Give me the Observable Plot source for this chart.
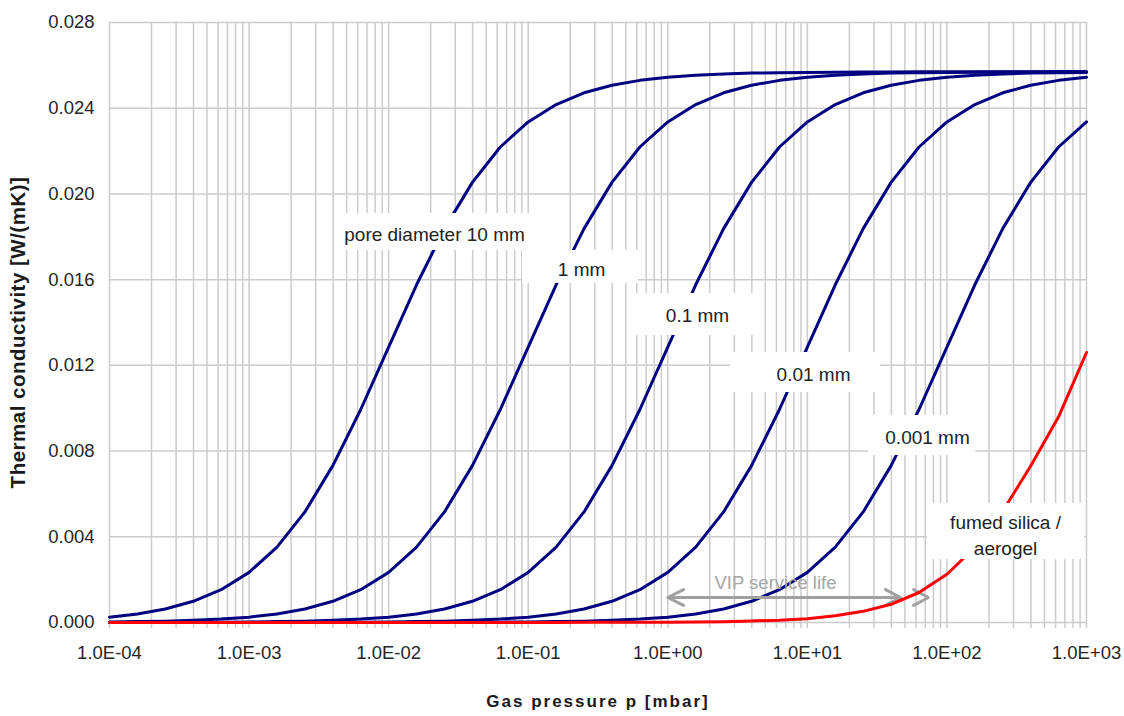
<!DOCTYPE html>
<html>
<head>
<meta charset="utf-8">
<script src="https://cdn.jsdelivr.net/npm/d3@7"></script>
<script src="https://cdn.jsdelivr.net/npm/@observablehq/plot@0.6"></script>
<style>
  html, body { margin: 0; padding: 0; background: #fff; }
  #chart { width: 1124px; height: 716px; }
</style>
</head>
<body>
<div id="chart"></div>
<script>
// Gas pressure sample points [mbar]
const pressure = [1e-4,1.585e-4,2.512e-4,3.981e-4,6.31e-4,
  1e-3,1.585e-3,2.512e-3,3.981e-3,6.31e-3,
  1e-2,1.585e-2,2.512e-2,3.981e-2,6.31e-2,
  1e-1,1.585e-1,2.512e-1,3.981e-1,6.31e-1,
  1,1.585,2.512,3.981,6.31,
  10,15.85,25.12,39.81,63.1,
  100,158.5,251.2,398.1,631,
  1000];

// Thermal conductivity [W/(mK)] per pore diameter
const k10mm = [0.00025,0.0004,0.00063,0.00099,0.00153,0.00234,0.00352,0.00516,0.00732,0.00994,
  0.01285,0.01576,0.01838,0.02054,0.02219,0.02336,0.02417,0.02472,0.02507,0.0253,
  0.02545,0.02554,0.0256,0.02564,0.02566,0.02567,0.02568,0.02569,0.02569,0.0257,
  0.0257,0.0257,0.0257,0.0257,0.0257,0.0257];
const k1mm = [0.000026,0.000041,0.000064,0.0001,0.00016,0.00025,0.0004,0.00063,0.00099,0.00153,
  0.00234,0.00352,0.00516,0.00732,0.00994,0.01285,0.01576,0.01838,0.02054,0.02219,
  0.02336,0.02417,0.02472,0.02507,0.0253,0.02545,0.02554,0.0256,0.02564,0.02566,
  0.02567,0.02568,0.02569,0.02569,0.0257,0.0257];
const k01mm = [0.0000026,0.0000041,0.0000065,0.00001,0.000016,0.000026,0.000041,0.000064,0.0001,0.00016,
  0.00025,0.0004,0.00063,0.00099,0.00153,0.00234,0.00352,0.00516,0.00732,0.00994,
  0.01285,0.01576,0.01838,0.02054,0.02219,0.02336,0.02417,0.02472,0.02507,0.0253,
  0.02545,0.02554,0.0256,0.02564,0.02566,0.02567];
const k001mm = [0.0000003,0.0000004,0.00000065,0.000001,0.0000016,0.0000026,0.0000041,0.0000065,0.00001,0.000016,
  0.000026,0.000041,0.000064,0.0001,0.00016,0.00025,0.0004,0.00063,0.00099,0.00153,
  0.00234,0.00352,0.00516,0.00732,0.00994,0.01285,0.01576,0.01838,0.02054,0.02219,
  0.02336,0.02417,0.02472,0.02507,0.0253,0.02545];
const k0001mm = [0.00000003,0.00000004,0.00000006,0.0000001,0.00000016,0.00000026,0.0000004,0.00000065,0.000001,0.0000016,
  0.0000026,0.0000041,0.0000065,0.00001,0.000016,0.000026,0.000041,0.000064,0.0001,0.00016,
  0.00025,0.0004,0.00063,0.00099,0.00153,0.00234,0.00352,0.00516,0.00732,0.00994,
  0.01285,0.01576,0.01838,0.02054,0.02219,0.02336];
const kSilica = [0,0,0,0,0,0,0,0,0,0,
  0.000001,0.000001,0.000002,0.000002,0.000003,0.000004,0.000005,0.000006,0.000008,0.00001,
  0.000015,0.000025,0.00004,0.00007,0.00011,0.00018,0.00032,0.00052,0.00085,0.0014,
  0.00225,0.0035,0.0052,0.0073,0.0096,0.0126];

const seriesNames = ["10 mm","1 mm","0.1 mm","0.01 mm","0.001 mm","fumed silica"];
const seriesValues = [k10mm,k1mm,k01mm,k001mm,k0001mm,kSilica];
const seriesColors = ["#000080","#000080","#000080","#000080","#000080","#ff0000"];

// Axis ticks
const xTicks = [1e-4,1e-3,1e-2,1e-1,1,10,100,1000];
const yTicks = [0,0.004,0.008,0.012,0.016,0.020,0.024,0.028];
const minorMultipliers = [1,2,3,4,5,6,7,8,9];

// Curve labels (position in data units)
const labelText = ["pore diameter 10 mm","1 mm","0.1 mm","0.01 mm","0.001 mm","fumed silica /\naerogel"];
const labelP = [0.02132,0.241,1.633,11.07,72.6,263];
const labelK = [0.0182,0.016567,0.01442,0.011667,0.008727,0.00415];
const boxP1 = [0.00416,0.091,0.587,2.81,27.4,72.6];
const boxP2 = [0.1037,0.6166,4.62,33.4,160.3,968];
const boxK1 = [0.01736,0.01582,0.013393,0.010733,0.007793,0.00294];
const boxK2 = [0.019087,0.01736,0.015353,0.0126,0.00966,0.005553];

// VIP service life annotation
const vipText = "VIP service life";
const vipTextP = 5.91, vipTextK = 0.00182;
const vipP = [1.0, 46.5];
const vipK = 0.001167;
const vipHeadBackP = [1.296, 36.3];
const vipExtraTipP = 73.8, vipExtraBackP = 57.7;
const headHalf = 0.00037;

// ---- build tables ----
const curves = [];
seriesNames.forEach((name, i) => {
  pressure.forEach((p, j) => curves.push({name, p, k: seriesValues[i][j], color: seriesColors[i]}));
});
const minorGrid = [];
for (let d = 0; d < xTicks.length; d++) {
  for (const m of minorMultipliers) {
    const v = xTicks[d] * m;
    if (v <= 1000 * 1.0001) minorGrid.push(v);
  }
}
const labels = labelText.map((t, i) => ({t, p: labelP[i], k: labelK[i], x1: boxP1[i], x2: boxP2[i], y1: boxK1[i], y2: boxK2[i]}));
const arrowSegs = [
  {g: "shaft", p: vipP[0], k: vipK}, {g: "shaft", p: vipP[1], k: vipK},
  {g: "left", p: vipHeadBackP[0], k: vipK + headHalf}, {g: "left", p: vipP[0], k: vipK}, {g: "left", p: vipHeadBackP[0], k: vipK - headHalf},
  {g: "right", p: vipHeadBackP[1], k: vipK + headHalf}, {g: "right", p: vipP[1], k: vipK}, {g: "right", p: vipHeadBackP[1], k: vipK - headHalf},
  {g: "extra", p: vipExtraBackP, k: vipK + headHalf}, {g: "extra", p: vipExtraTipP, k: vipK}, {g: "extra", p: vipExtraBackP, k: vipK - headHalf}
];

const fmtX = d => {
  const e = Math.round(Math.log10(d));
  return "1.0E" + (e < 0 ? "-" : "+") + String(Math.abs(e)).padStart(2, "0");
};

const chart = Plot.plot({
  width: 1124,
  height: 716,
  marginLeft: 109,
  marginRight: 38,
  marginTop: 22,
  marginBottom: 94,
  style: {fontFamily: "'Liberation Sans', Arial, sans-serif", fontSize: "18.5px", color: "#262626", background: "#ffffff"},
  x: {type: "log", domain: [1e-4, 1e3], ticks: xTicks, tickFormat: fmtX, tickSize: 0, tickPadding: 23, label: null},
  y: {domain: [0, 0.028], ticks: yTicks, tickFormat: d => d.toFixed(3), tickSize: 0, tickPadding: 15, label: null},
  marks: [
    Plot.ruleX(minorGrid, {stroke: "#cccccc", strokeWidth: 1.5, insetBottom: -6}),
    Plot.ruleY(yTicks, {stroke: "#cccccc", strokeWidth: 1.5}),
    Plot.line(curves.filter(d => d.name !== "fumed silica"), {x: "p", y: "k", z: "name", stroke: "color", strokeWidth: 3, strokeLinejoin: "round"}),
    Plot.line(arrowSegs, {x: "p", y: "k", z: "g", stroke: "#a0a0a0", strokeWidth: 3, strokeLinejoin: "miter"}),
    Plot.line(curves.filter(d => d.name === "fumed silica"), {x: "p", y: "k", z: "name", stroke: "color", strokeWidth: 3, strokeLinejoin: "round"}),
    Plot.text([vipText], {x: vipTextP, y: vipTextK, text: d => d, fill: "#a6a6a6", fontSize: 18.5}),
    Plot.rect(labels, {x1: "x1", x2: "x2", y1: "y1", y2: "y2", fill: "#ffffff"}),
    Plot.text(labels, {x: "p", y: "k", text: "t", fill: "#222222", fontSize: 19, lineHeight: 1.4}),
    Plot.text(["Gas pressure p [mbar]"], {frameAnchor: "bottom", dy: 84, text: d => d, textAnchor: "middle", fontWeight: "bold", fontSize: 17, fill: "#1a1a1a"}),
    Plot.text(["Thermal conductivity [W/(mK)]"], {frameAnchor: "left", dx: -91, dy: 10, rotate: -90, text: d => d, textAnchor: "middle", fontWeight: "bold", fontSize: 20.5, fill: "#1a1a1a"})
  ]
});

d3.select(chart).selectAll("text").filter(function() { return this.textContent === "Gas pressure p [mbar]"; })
  .attr("letter-spacing", "2px");
d3.select(chart).selectAll("text").filter(function() { return this.textContent === "Thermal conductivity [W/(mK)]"; })
  .attr("letter-spacing", "0.5px");

document.getElementById("chart").appendChild(chart);
</script>
</body>
</html>
